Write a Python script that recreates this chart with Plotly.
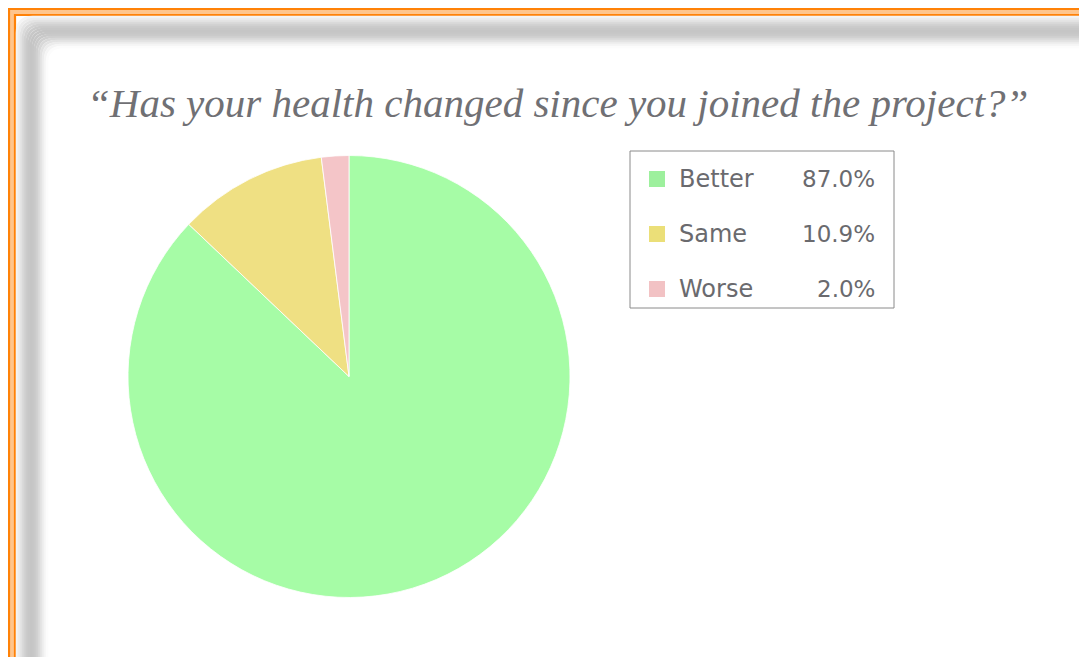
import plotly.graph_objects as go

# ---- data ----
categories = ["Better", "Same", "Worse"]
shares = [87.0, 10.9, 2.0]
pie_colors = ["#a6fca6", "#efe083", "#f4c5c8"]
swatch_colors = ["#9df09d", "#ebdf78", "#f2c2c4"]
title_text = "\u201cHas your health changed since you joined the project?\u201d"

W, H = 1087, 657
OFF = 8  # page body margin
def px(x):
    return (x - OFF) / W
def py(y):
    return 1 - (y - OFF) / H

shapes = []
# orange double frame
for off, col, wdt in [(12, "#ffc58c", 4), (9, "#ff8208", 2.2), (15, "#ff8208", 2.2)]:
    shapes.append(dict(type="path", xref="paper", yref="paper",
                       path=f"M {px(off)},{py(H+50)} L {px(off)},{py(off)} L {px(W+50)},{py(off)}",
                       line=dict(color=col, width=wdt)))
# gray soft shadow band (rounded corner)
profile = [(17, 244), (19, 236), (21, 228), (23, 218), (25, 210), (27, 203), (29, 199),
           (31, 197), (33, 198), (35, 201), (37, 207), (39, 216), (41, 226), (43, 236),
           (45, 245), (47, 252)]
for off, g in profile:
    r = 16
    col = f"rgb({g},{g},{g})"
    x0 = off
    y0 = off
    path = (f"M {px(x0)},{py(H+50)} L {px(x0)},{py(y0 + r)} "
            f"Q {px(x0)},{py(y0)} {px(x0 + r)},{py(y0)} L {px(W+50)},{py(y0)}")
    shapes.append(dict(type="path", xref="paper", yref="paper", path=path,
                       line=dict(color=col, width=2.6)))

# legend frame
lx0, ly0, lx1, ly1 = 630, 151, 894, 308
shapes.append(dict(type="rect", xref="paper", yref="paper",
                   x0=px(lx0), x1=px(lx1), y0=py(ly1), y1=py(ly0),
                   line=dict(color="#8a8a8a", width=1), fillcolor="white"))

annotations = []
row_y = [179, 234, 289]
for i, (cat, val, sc) in enumerate(zip(categories, shares, swatch_colors)):
    yc = row_y[i]
    shapes.append(dict(type="rect", xref="paper", yref="paper",
                       x0=px(649), x1=px(665), y0=py(yc + 8), y1=py(yc - 8),
                       line=dict(width=0), fillcolor=sc))
    annotations.append(dict(x=px(677), y=py(yc), xref="paper", yref="paper",
                            text=cat, showarrow=False, xanchor="left", yanchor="middle",
                            font=dict(family="DejaVu Sans", size=24, color="#6a6a6e")))
    annotations.append(dict(x=px(877), y=py(yc), xref="paper", yref="paper",
                            text=f"{val:.1f}%", showarrow=False, xanchor="right", yanchor="middle",
                            font=dict(family="DejaVu Sans", size=23, color="#6a6a6e")))

annotations.append(dict(x=px(557), y=py(103), xref="paper", yref="paper",
                        text=f"<i>{title_text}</i>", showarrow=False,
                        xanchor="center", yanchor="middle",
                        font=dict(family="Liberation Serif", size=41, color="#707074")))

cx, cy, rad = 349, 376.5, 221
fig = go.Figure(go.Pie(
    labels=categories, values=shares, sort=False, direction="clockwise", rotation=0,
    marker=dict(colors=pie_colors, line=dict(color="rgba(255,255,255,0.8)", width=1)),
    textinfo="none", showlegend=False,
    domain=dict(x=[px(cx - rad), px(cx + rad)], y=[py(cy + rad), py(cy - rad)]),
))

fig.update_layout(
    width=W, height=H, margin=dict(l=0, r=0, t=0, b=0),
    paper_bgcolor="white", plot_bgcolor="white",
    shapes=shapes, annotations=annotations,
)
fig.write_html("out.html")
